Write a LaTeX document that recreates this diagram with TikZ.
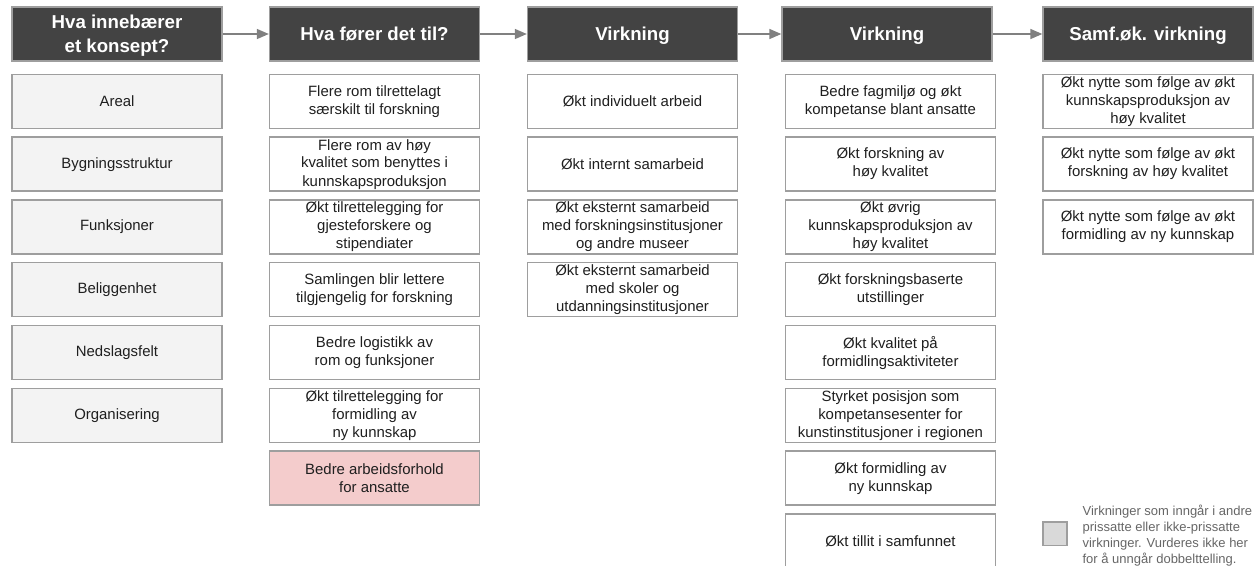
\documentclass[tikz,border=0pt]{standalone}
\usepackage{fontspec}
\setmainfont{Liberation Sans}
\usepackage{tikz}
\usetikzlibrary{arrows.meta,positioning}
\definecolor{headc}{RGB}{67,67,67}
\definecolor{edgec}{RGB}{158,158,158}
\definecolor{conc}{RGB}{243,243,243}
\definecolor{pinkc}{RGB}{244,204,204}
\definecolor{legc}{RGB}{217,217,217}
\definecolor{arrc}{RGB}{128,128,128}
\definecolor{notec}{RGB}{102,102,102}
\begin{document}
\begin{tikzpicture}[x=0.75pt, y=-0.75pt, node distance=5.6pt,
  head/.style={draw=edgec, line width=1pt, fill=headc, text=white, align=center,
    minimum width=157.5pt, minimum height=40.5pt, inner sep=0pt, text depth=0pt,
    font=\bfseries\fontsize{14}{18}\selectfont},
  cell/.style={draw=edgec, line width=1pt, fill=white, text=black!88, align=center,
    minimum width=157.5pt, minimum height=40.5pt, inner sep=0pt, font=\fontsize{11.2}{13.5}\selectfont},
  con/.style={cell, fill=conc}, ext/.style={cell, fill=pinkc},
  arr/.style={-{Triangle[length=9pt,width=7.5pt]}, draw=arrc, line width=1.1pt}]
  \useasboundingbox (0,0) rectangle (1260,565);
  % column heads
  \node[head] (konsept) at (117,34) {Hva innebærer\\et konsept?};
  \node[head] (forer) at (374.5,34) {Hva fører det til?};
  \node[head] (virk1) at (632.5,34) {Virkning};
  \node[head] (virk2) at (887,34) {Virkning};
  \node[head] (samf) at (1148,34) {Samf.øk. virkning};
  \draw[arr] (konsept) -- (forer);
  \draw[arr] (forer) -- (virk1);
  \draw[arr] (virk1) -- (virk2);
  \draw[arr] (virk2) -- (samf);
  % konsept
  \node[con, below=9pt of konsept] (areal) {Areal};
  \node[con, below=of areal] (bygg) {Bygningsstruktur};
  \node[con, below=of bygg] (funk) {Funksjoner};
  \node[con, below=of funk] (belig) {Beliggenhet};
  \node[con, below=of belig] (nedsl) {Nedslagsfelt};
  \node[con, below=of nedsl] (organ) {Organisering};
  % hva fører det til
  \node[cell, below=9pt of forer] (rom) {Flere rom tilrettelagt\\særskilt til forskning};
  \node[cell, below=of rom] (romhoy) {Flere rom av høy\\kvalitet som benyttes i\\kunnskapsproduksjon};
  \node[cell, below=of romhoy] (gjest) {Økt tilrettelegging for\\gjesteforskere og\\stipendiater};
  \node[cell, below=of gjest] (saml) {Samlingen blir lettere\\tilgjengelig for forskning};
  \node[cell, below=of saml] (logi) {Bedre logistikk av\\rom og funksjoner};
  \node[cell, below=of logi] (formtil) {Økt tilrettelegging for\\formidling av\\ny kunnskap};
  \node[ext, below=of formtil] (arbf) {Bedre arbeidsforhold\\for ansatte};
  % virkning 1
  \node[cell, below=9pt of virk1] (indiv) {Økt individuelt arbeid};
  \node[cell, below=of indiv] (intern) {Økt internt samarbeid};
  \node[cell, below=of intern] (ekstf) {Økt eksternt samarbeid\\med forskningsinstitusjoner\\og andre museer};
  \node[cell, below=of ekstf] (eksts) {Økt eksternt samarbeid\\med skoler og\\utdanningsinstitusjoner};
  % virkning 2
  \node[cell, below=9pt of virk2, xshift=2.6pt] (fagm) {Bedre fagmiljø og økt\\kompetanse blant ansatte};
  \node[cell, below=of fagm] (forsk) {Økt forskning av\\høy kvalitet};
  \node[cell, below=of forsk] (ovrig) {Økt øvrig\\kunnskapsproduksjon av\\høy kvalitet};
  \node[cell, below=of ovrig] (utst) {Økt forskningsbaserte\\utstillinger};
  \node[cell, below=of utst] (kval) {Økt kvalitet på\\formidlingsaktiviteter};
  \node[cell, below=of kval] (posi) {Styrket posisjon som\\kompetansesenter for\\kunstinstitusjoner i regionen};
  \node[cell, below=of posi] (formid) {Økt formidling av\\ny kunnskap};
  \node[cell, below=of formid] (tillit) {Økt tillit i samfunnet};
  % samf.øk.
  \node[cell, below=9pt of samf] (nyk) {Økt nytte som følge av økt\\kunnskapsproduksjon av\\høy kvalitet};
  \node[cell, below=of nyk] (nyf) {Økt nytte som følge av økt\\forskning av høy kvalitet};
  \node[cell, below=of nyf] (nyform) {Økt nytte som følge av økt\\formidling av ny kunnskap};
  % legend
  \node[draw=edgec, line width=1pt, fill=legc, minimum width=18pt, minimum height=17.5pt, inner sep=0pt] (legbox) at (1055,533.5) {};
  \node[right=11pt of legbox, yshift=-1.2pt, align=left, inner sep=0pt, text=notec, font=\fontsize{9.75}{12}\selectfont] (legtext)
    {Virkninger som inngår i andre\\prissatte eller ikke-prissatte\\virkninger. Vurderes ikke her\\for å unngår dobbelttelling.};
\end{tikzpicture}
\end{document}
